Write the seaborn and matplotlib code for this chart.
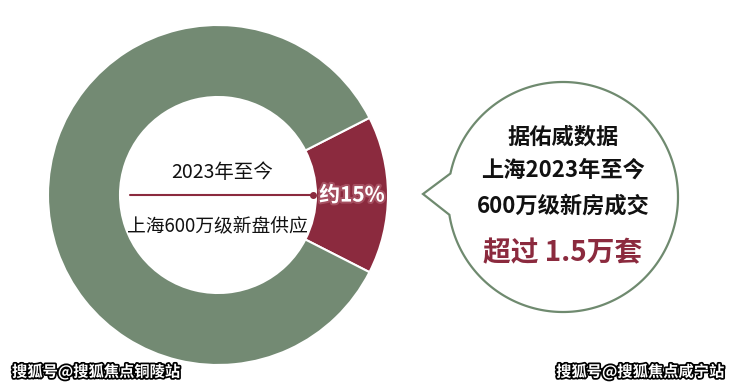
import numpy as np
import matplotlib
matplotlib.use("Agg")
import matplotlib.pyplot as plt
import matplotlib.patheffects as pe
from matplotlib.patches import Polygon
import seaborn as sns

sns.set_theme(style="white")
plt.rcParams['font.family'] = ['Noto Sans CJK SC', 'DejaVu Sans']

# data
labels = ["600万级新房成交", "其他供应"]
values = [15, 85]
colors = ["#8B2A3E", "#738A73"]
pct_label = "约15%"
center_top = "2023年至今"
center_bottom = "上海600万级新盘供应"
bubble_lines = ["据佑威数据", "上海2023年至今", "600万级新房成交"]
bubble_highlight = "超过 1.5万套"
watermark_left = "搜狐号@搜狐焦点铜陵站"
watermark_right = "搜狐号@搜狐焦点咸宁站"

W, H = 740, 386
fig = plt.figure(figsize=(W / 100, H / 100), dpi=100)
ax = fig.add_axes([0, 0, 1, 1])

cx, cy, R, r = 218, 195, 170, 98
start = -values[0] / 100 * 360 / 2
ax.pie(values, colors=colors, startangle=start, center=(cx, cy), radius=R,
       counterclock=True,
       wedgeprops=dict(width=R - r, edgecolor="white", linewidth=1.5))
ax.set_xlim(0, W)
ax.set_ylim(H, 0)
ax.set_aspect("equal")
ax.axis("off")

# center texts and pointer line
ax.text(cx + 4, 173, center_top, ha="center", va="center", fontsize=14, color="#111111")
ax.text(cx - 1, 226, center_bottom, ha="center", va="center", fontsize=13.5, color="#111111")
ax.plot([130, 313], [195, 195], color="#8B2A3E", lw=1.5)
ax.plot([313], [195], "o", color="#8B2A3E", ms=4)
ax.text(352, 195, pct_label, ha="center", va="center", fontsize=15, fontweight="bold",
        color="white",
        path_effects=[pe.withStroke(linewidth=3, foreground="#b86878", alpha=0.6)])

# speech bubble
bx, by, br = 563, 197, 115
tip = (423, 194)
a1 = np.arctan2(173 - by, 448 - bx) % (2 * np.pi)
a2 = np.arctan2(215 - by, 448 - bx) % (2 * np.pi)
delta = (a2 - a1) % (2 * np.pi)
ts = np.linspace(a2, a2 - delta, 400)
pts = [(bx + br * np.cos(t), by + br * np.sin(t)) for t in ts] + [tip]
ax.add_patch(Polygon(pts, closed=True, facecolor="white", edgecolor="#6F8A6F", lw=1.6))

ys = [137, 170, 206]
for txt, yy in zip(bubble_lines, ys):
    ax.text(bx, yy, txt, ha="center", va="center", fontsize=16, fontweight="bold", color="#111111")
ax.text(bx, 253, bubble_highlight, ha="center", va="center", fontsize=20, fontweight="bold",
        color="#8B2A3E")

# watermarks
wm_fx = [pe.withStroke(linewidth=2.5, foreground="black")]
ax.text(12, 372, watermark_left, ha="left", va="center", fontsize=11, fontweight="bold",
        color="white", path_effects=wm_fx)
ax.text(724, 372, watermark_right, ha="right", va="center", fontsize=11, fontweight="bold",
        color="white", path_effects=wm_fx)

fig.savefig("out.png", dpi=100)
